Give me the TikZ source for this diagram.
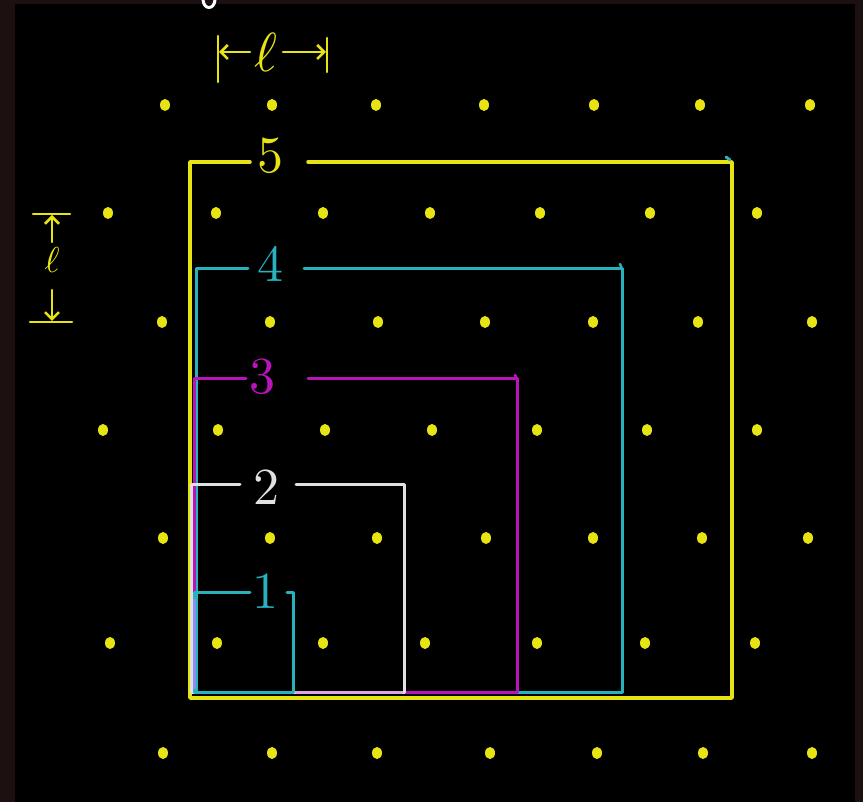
\documentclass[tikz,border=0pt]{standalone}
\usetikzlibrary{arrows.meta}
\definecolor{yel}{RGB}{232,228,20}
\definecolor{cya}{RGB}{40,178,190}
\definecolor{mag}{RGB}{185,20,185}
\definecolor{wht}{RGB}{225,225,225}
\definecolor{pnk}{RGB}{220,165,225}
\definecolor{lav}{RGB}{140,140,250}
\definecolor{framec}{RGB}{28,16,16}
\begin{document}
\begin{tikzpicture}[x=1pt,y=-1pt,line cap=round,line join=round,
  sq/.style={line width=3pt},
  dotm/.style={fill=yel,draw=none},
  dig/.style={scale=5.2,inner sep=0pt},
  dimline/.style={yel,line width=2.5pt},
  tip/.style={-{Straight Barb[length=7pt,width=14pt]}}]
\useasboundingbox (0,0) rectangle (863,802);
\fill[framec] (0,0) rectangle (863,802);
\fill[black] (15,4) rectangle (855,802);
% white fragment at top
\draw[white,line width=3pt] (203,0) .. controls (204,10) and (214,10) .. (215,0);
% dots
\foreach \y/\xs in {105/{165,272,376,484,594,700,810},
                    213/{108,216,323,430,540,650,757},
                    322/{162,270,378,485,593,698,812},
                    430/{103,218,325,432,537,647,757},
                    538/{163,270,377,486,593,702,808},
                    643/{110,217,323,425,537,645,755},
                    753/{163,272,377,490,597,703,812}}
  \foreach \x in \xs
    \fill[dotm] (\x,\y) ellipse[x radius=5,y radius=6];
% labels
\node[dig,text=yel] (l5) at (270,156) {5};
\node[dig,text=cya] (l4) at (270,264) {4};
\node[dig,text=mag] (l3) at (262,377) {3};
\node[dig,text=wht] (l2) at (266,487) {2};
\node[dig,text=cya] (l1) at (265,591) {1};
% square 5 (yellow)
\draw[sq,yel,line width=3.5pt] (250,162) -- (190,162) -- (190,698) -- (732,698) -- (732,162) -- (308,162);
\draw[cya,line width=3pt] (726,157) -- (730,160);
% square 4 (cyan)
\draw[sq,cya] (248,269) -- (196,269) -- (196,692) -- (622,692) -- (622,269) -- (304,269);
\draw[cya,line width=2.5pt] (622,269) -- (620,264);
% square 3 (magenta)
\draw[sq,mag] (246,379) -- (194,379) -- (194,692) -- (517,692) -- (517,379) -- (308,379);
\draw[mag,line width=2.5pt] (517,379) -- (515,375);
% square 2 (white)
\draw[sq,wht] (240,485) -- (191,485) -- (191,692) -- (404,692) -- (404,485) -- (296,485);
% square 1 (cyan)
\draw[sq,cya] (250,592) -- (194,592) -- (194,692) -- (293,692) -- (293,592) -- (287,592);
% overlapping bottom segments
\draw[sq,pnk] (296,692) -- (402,692);
\draw[sq,lav] (194,600) -- (194,688);
% top dimension
\draw[dimline] (218,36) -- (218,82);
\draw[dimline] (327,38) -- (327,72);
\node[text=yel,scale=5.5,inner sep=0pt] (lt) at (266,52) {$\ell$};
\draw[dimline,tip] (250,52) -- (219,52);
\draw[dimline,tip] (283,52) -- (326,52);
% left dimension
\draw[dimline] (33,214) -- (70,214);
\draw[dimline] (30,322) -- (72,322);
\node[text=yel,scale=3.6,inner sep=0pt] (ll) at (52,260) {$\ell$};
\draw[dimline,tip] (52,242) -- (52,215);
\draw[dimline,tip] (52,290) -- (52,321);
\end{tikzpicture}
\end{document}
